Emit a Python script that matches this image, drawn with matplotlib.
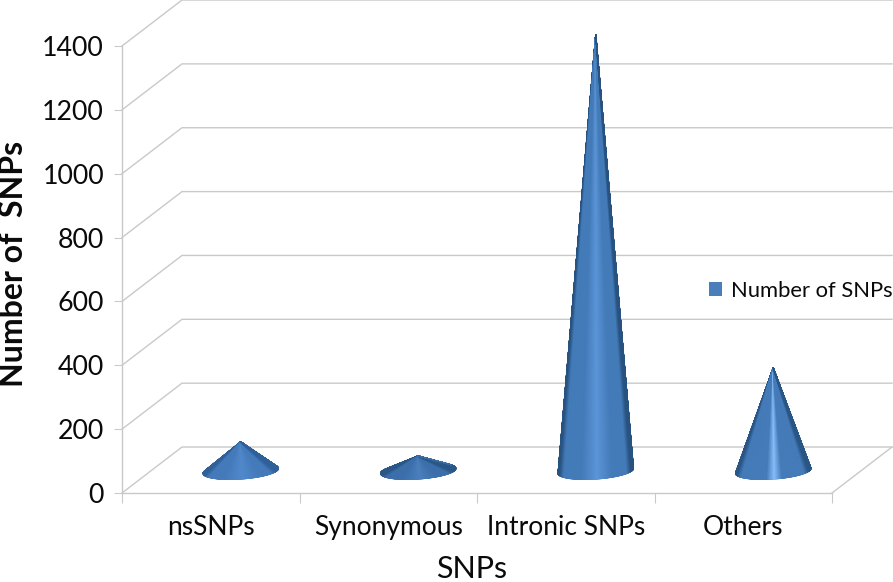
import matplotlib
matplotlib.use('Agg')
import matplotlib.pyplot as plt
import numpy as np
from matplotlib.colors import LinearSegmentedColormap
from matplotlib.patches import Patch

# datos
categorias = ['nsSNPs', 'Synonymous', 'Intronic SNPs', 'Others']
valores = [91, 47, 1368, 323]
y_ticks = [0, 200, 400, 600, 800, 1000, 1200, 1400]

# --- estilo del cono por categoria: borde, medio, brillo, ancho del brillo ---
tonos = [('#2f6099', '#457bbb', '#5089cc', 0.25),
         ('#2a5786', '#3c6fab', '#4a80bd', 0.25),
         ('#28527f', '#437ab8', '#5c96d9', 0.22),
         ('#2a5686', '#467bba', '#88bffa', 0.11)]

GRIS = '#c9c9c9'
NEGRO = '#0a0a0a'
PROF_X = 0.338   # profundidad del piso en unidades de x
PROF_Y = 144     # profundidad del piso en unidades de y
RADIO_X = 0.203
RADIO_P = 0.185

plt.rcParams['font.family'] = ['Lato', 'DejaVu Sans']

fig = plt.figure(figsize=(8.93, 5.82), dpi=100)
ax = fig.add_axes([122 / 893, (582 - 493) / 582, 710 / 893, 447 / 582])
ax.set_xlim(0, len(categorias))
ax.set_ylim(0, 1400)

# paredes y piso
for v in y_ticks:
    ax.plot([0, PROF_X, len(categorias) + PROF_X], [v, v + PROF_Y, v + PROF_Y],
            color=GRIS, lw=1, clip_on=False, zorder=1)
ax.plot([len(categorias), len(categorias) + PROF_X], [0, PROF_Y],
        color=GRIS, lw=1, clip_on=False, zorder=1)

for s in ['top', 'right']:
    ax.spines[s].set_visible(False)
for s in ['left', 'bottom']:
    ax.spines[s].set_color(GRIS)
    ax.spines[s].set_linewidth(1)

ax.set_yticks(y_ticks)
ax.set_xticks(range(len(categorias) + 1))
ax.set_xticklabels([])
ax.set_xticks(np.arange(len(categorias)) + 0.5, minor=True)
ax.set_xticklabels(categorias, minor=True)
ax.tick_params(axis='y', which='major', length=6, color=GRIS, labelsize=19.3, pad=7, labelcolor=NEGRO)
ax.tick_params(axis='x', which='major', length=7, color=GRIS)
ax.tick_params(axis='x', which='minor', length=0, labelsize=19, pad=16, labelcolor=NEGRO)

# conos: arco frontal de la base (el que no mira al vertice) sombreado con gouraud
t = np.linspace(np.pi / 2, 5 * np.pi / 2, 721)
r = np.linspace(0, 1, 2)
for i, (valor, tono) in enumerate(zip(valores, tonos)):
    cx = i + 0.5 + PROF_X / 2
    cy = PROF_Y / 2 - 3
    bx = cx + RADIO_X * np.cos(t) + RADIO_P * PROF_X * np.sin(t)
    by = cy + RADIO_P * PROF_Y * np.sin(t)
    tx = -RADIO_X * np.sin(t) + RADIO_P * PROF_X * np.cos(t)
    ty = RADIO_P * PROF_Y * np.cos(t)
    frente = tx * (cy + valor - by) - ty * (cx - bx) > 0
    bx, by = bx[frente], by[frente]

    w = tono[3]
    cmap = LinearSegmentedColormap.from_list('cono', [
        (0.0, tono[0]), (0.06, tono[1]), (0.52 - w, tono[1]), (0.52, tono[2]),
        (0.52 + w, tono[1]), (0.94, tono[1]), (1.0, tono[0])])
    pos = (bx - cx) / (2 * RADIO_X) + 0.5

    ax.fill(np.r_[cx, bx], np.r_[cy + valor, by], facecolor=tono[0], edgecolor=tono[0],
            lw=0.5, clip_on=False, zorder=3)
    X = cx + np.outer(r, bx - cx)
    Y = cy + valor + np.outer(r, by - cy - valor)
    C = np.tile(pos, (len(r), 1))
    ax.pcolormesh(X, Y, C, shading='gouraud', cmap=cmap, vmin=0, vmax=1, clip_on=False, zorder=4)

ax.set_xlim(0, len(categorias))
ax.set_ylim(0, 1400)

fig.text(14 / 893, 1 - 264 / 582, 'Number of  SNPs', rotation=90, fontsize=23, fontweight='bold',
         ha='center', va='center', color=NEGRO)
fig.text(472 / 893, 1 - 569 / 582, 'SNPs', fontsize=22, ha='center', va='center', color=NEGRO)

leg = ax.legend(handles=[Patch(facecolor='#4a7ebb', label='Number of SNPs')],
                loc='center left', bbox_to_anchor=(587 / 710, 202 / 447), frameon=False,
                fontsize=15.8, handlelength=0.6, handleheight=0.6, handletextpad=0.4,
                borderpad=0, borderaxespad=0, labelcolor=NEGRO)

fig.savefig('out.png', dpi=100)
plt.close(fig)
